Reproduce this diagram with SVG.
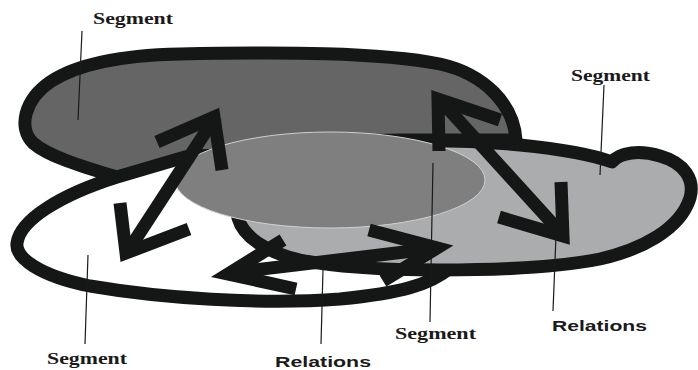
<svg xmlns="http://www.w3.org/2000/svg" width="698" height="370" viewBox="0 0 698 370">
  <style>
    .outline { stroke: #151716; stroke-width: 13; stroke-linejoin: round; }
    .arrow { fill: none; stroke: #151716; stroke-width: 13; stroke-linejoin: miter; stroke-miterlimit: 10; stroke-linecap: butt; }
    .leader { stroke: #1a1a1a; stroke-width: 1.2; fill: none; }
    .seg { font-family: "Liberation Serif", "Times New Roman", serif; font-weight: bold; font-size: 16.5px; fill: #1a1a1a; }
    .rel { font-family: "Liberation Sans", Arial, sans-serif; font-weight: bold; font-size: 15px; fill: #1a1a1a; }
  </style>
  <rect width="698" height="370" fill="#ffffff"/>

  <!-- upper dark segment -->
  <g id="segment-top">
    <path class="outline" fill="#656565" d="M 180,54 C 280,52 380,52 440,64 C 485,74 514,105 516,140 L 400,140 C 330,140 240,150 185,160 L 117,177 C 80,166 48,156 33,143 C 18,128 24,100 50,82 C 80,62 130,55 180,54 Z"/>
  </g>

  <!-- lower-left white segment -->
  <g id="segment-left">
    <path class="outline" fill="#ffffff" d="M 185,157 C 240,150 300,170 350,190 C 400,210 440,240 450,268 C 430,285 400,293 340,299 C 260,305 160,298 90,286 C 40,276 15,258 17,243 C 20,220 60,195 117,177 Z"/>
  </g>

  <!-- right light segment -->
  <g id="segment-right">
    <path class="outline" fill="#abacae" d="M 400,141 C 450,140 480,141 520,145 C 560,149 590,154 612,162 C 620,152 640,150 660,156 C 685,163 695,180 690,198 C 680,230 640,250 600,259 C 560,267 500,270 440,270 C 380,270 330,266 300,260 C 265,252 243,236 238,218 C 232,195 270,160 330,148 C 360,142 380,141 400,141 Z"/>
  </g>

  <!-- central shared area -->
  <g id="overlap">
    <ellipse cx="330" cy="180" rx="155" ry="48" fill="#7f7f7f" stroke="#d0d0d0" stroke-width="1"/>
  </g>

  <!-- label leader lines -->
  <g id="leaders">
    <line class="leader" x1="82" y1="31" x2="78" y2="120"/>
    <line class="leader" x1="604" y1="85" x2="600" y2="175"/>
    <line class="leader" x1="88" y1="255" x2="85" y2="344"/>
    <line class="leader" x1="323" y1="270" x2="321" y2="344"/>
    <line class="leader" x1="433" y1="163" x2="430" y2="322"/>
    <line class="leader" x1="556" y1="236" x2="553" y2="311"/>
  </g>

  <!-- relation arrows -->
  <g id="connectors">
    <!-- left: white <-> dark -->
    <line class="arrow" x1="216" y1="116" x2="126" y2="254"/>
    <polyline class="arrow" points="157,142 214,117 222,170"/>
    <polyline class="arrow" points="120,203 126,253 189,229"/>
    <!-- right: dark <-> light -->
    <line class="arrow" x1="441" y1="101" x2="562" y2="234"/>
    <polyline class="arrow" points="439,151 438,99 500,120"/>
    <polyline class="arrow" points="561,182 563,236 499,217"/>
    <!-- bottom: white <-> light -->
    <line class="arrow" x1="229" y1="273" x2="438" y2="248"/>
    <polyline class="arrow" points="283,240 228,274 296,289"/>
    <polyline class="arrow" points="369,230 437,248 383,281"/>
  </g>

  <!-- labels -->
  <g id="labels">
    <text class="seg" x="93" y="24" textLength="80" lengthAdjust="spacingAndGlyphs">Segment</text>
    <text class="seg" x="571" y="81" textLength="79" lengthAdjust="spacingAndGlyphs">Segment</text>
    <text class="seg" x="47" y="364" textLength="80" lengthAdjust="spacingAndGlyphs">Segment</text>
    <text class="seg" x="395" y="339" textLength="81" lengthAdjust="spacingAndGlyphs">Segment</text>
    <text class="rel" x="552" y="331" textLength="95" lengthAdjust="spacingAndGlyphs">Relations</text>
    <text class="rel" x="275" y="367" textLength="96" lengthAdjust="spacingAndGlyphs">Relations</text>
  </g>
</svg>
